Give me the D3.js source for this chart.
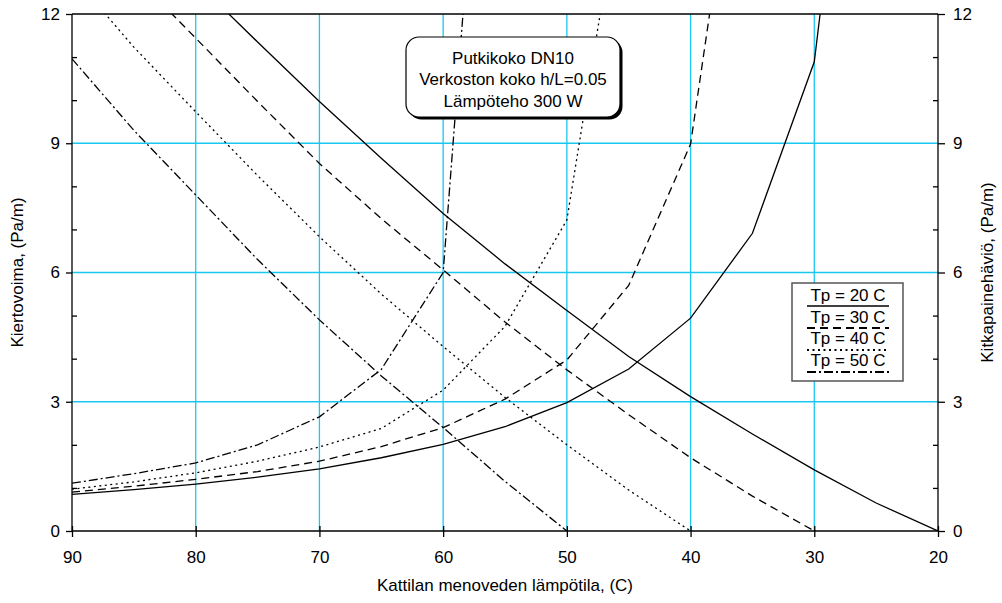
<!DOCTYPE html>
<html><head><meta charset="utf-8">
<script src="https://cdn.jsdelivr.net/npm/d3@7"></script>
<style>body{margin:0;background:#fff}svg{display:block;font-family:"Liberation Sans",Arial,sans-serif}</style>
</head><body><svg id="c" width="1002" height="603"></svg>
<script>
// Temperatures (x, °C)
const temps = [90,85,80,75,70,65,60,55,50,45,40,35,30,25,20];
// Kiertovoima (circulation force) per Tp, descending curves
const force20 = [null,null,12.75,11.35,9.97,8.65,7.37,6.2,5.12,4.05,3.12,2.25,1.42,0.65,0];
const force30 = [null,12.9,11.44,9.97,8.53,7.25,6.06,4.85,3.74,2.7,1.7,0.81,0,null,null];
const force40 = [12.9,11.23,9.73,8.25,6.83,5.5,4.28,3.1,2.0,0.95,0,null,null,null,null];
const force50 = [10.96,9.3,7.8,6.3,4.9,3.6,2.4,1.15,0,null,null,null,null,null,null];
// Kitkapainehäviö (friction loss) per Tp, ascending curves
const loss20 = [0.85,0.96,1.09,1.25,1.44,1.70,2.01,2.42,2.98,3.76,4.94,6.91,10.89,22.7,null];
const loss30 = [0.9,1.04,1.2,1.38,1.62,1.96,2.4,3.06,3.97,5.7,8.98,18.8,null,null,null];
const loss40 = [0.97,1.14,1.35,1.62,1.95,2.38,3.27,4.75,7.22,16.1,null,null,null,null,null];
const loss50 = [1.11,1.33,1.58,2.0,2.65,3.75,6.0,24.7,null,null,null,null,null,null,null];
const seriesNames = ["Tp = 20 C","Tp = 30 C","Tp = 40 C","Tp = 50 C"];
const yTicks = [0,3,6,9,12];
const xTicks = [90,80,70,60,50,40,30,20];
const infoLines = ["Putkikoko DN10","Verkoston koko h/L=0.05","Lämpöteho 300 W"];

const dashes = [null,"8,5","2,3.5","9,3,2,3"];
const svg = d3.select("#c");
const L=72,R=938,T=14,B=531;
const x = d3.scaleLinear().domain([90,20]).range([L,R]);
const y = d3.scaleLinear().domain([0,12]).range([B,T]);
const grid="#19c8f0";
const FS=17;

svg.append("defs").append("clipPath").attr("id","pc").append("rect")
  .attr("x",L).attr("y",T).attr("width",R-L).attr("height",B-T);

// grid
svg.append("g").selectAll("line").data(xTicks.filter(d=>d!==90&&d!==20)).join("line")
  .attr("x1",d=>x(d)).attr("x2",d=>x(d)).attr("y1",T).attr("y2",B)
  .attr("stroke",grid).attr("stroke-width",1.3);
svg.append("g").selectAll("line").data(yTicks.filter(d=>d!==0&&d!==12)).join("line")
  .attr("x1",L).attr("x2",R).attr("y1",d=>y(d)).attr("y2",d=>y(d))
  .attr("stroke",grid).attr("stroke-width",1.3);

// curves
const lineGen = d3.line().defined(d=>d[1]!=null).x(d=>x(d[0])).y(d=>y(d[1]));
const curves = svg.append("g").attr("clip-path","url(#pc)");
[force20,force30,force40,force50].forEach((s,i)=>{
  curves.append("path").attr("d",lineGen(temps.map((t,j)=>[t,s[j]])))
    .attr("fill","none").attr("stroke","#000").attr("stroke-width",1.3)
    .attr("stroke-dasharray",dashes[i]);
});
[loss20,loss30,loss40,loss50].forEach((s,i)=>{
  curves.append("path").attr("d",lineGen(temps.map((t,j)=>[t,s[j]])))
    .attr("fill","none").attr("stroke","#000").attr("stroke-width",1.3)
    .attr("stroke-dasharray",dashes[i]);
});

// frame
svg.append("line").attr("x1",L).attr("x2",R).attr("y1",T).attr("y2",T).attr("stroke","#000").attr("stroke-width",1.3);

// axes
const fmt = d3.format("d");
const gl = svg.append("g").attr("transform",`translate(${L},0)`)
  .call(d3.axisLeft(y).tickValues(yTicks).tickFormat(fmt).tickSize(6).tickPadding(6));
const gr = svg.append("g").attr("transform",`translate(${R},0)`)
  .call(d3.axisRight(y).tickValues(yTicks).tickFormat(fmt).tickSize(7).tickPadding(8));
const gb = svg.append("g").attr("transform",`translate(0,${B})`)
  .call(d3.axisBottom(x).tickValues(xTicks).tickFormat(fmt).tickSize(6).tickPadding(14));
// minor ticks inside
const minor = d3.range(0,13).filter(v=>v%3!==0);
gl.append("g").call(d3.axisRight(y).tickValues(minor).tickFormat("").tickSize(5)).select(".domain").remove();
gr.append("g").call(d3.axisLeft(y).tickValues(minor).tickFormat("").tickSize(5)).select(".domain").remove();
// bottom ticks crossing inward
gb.append("g").call(d3.axisTop(x).tickValues(xTicks).tickFormat("").tickSize(5)).select(".domain").remove();
[gl,gr,gb].forEach(g=>{
  g.selectAll(".domain").attr("stroke","#000").attr("stroke-width",1.3);
  g.selectAll(".tick line").attr("stroke","#000").attr("stroke-width",1.3);
  g.selectAll("text").attr("font-size",FS).attr("fill","#000").attr("font-family","Liberation Sans, Arial, sans-serif");
});
gl.selectAll(".domain").attr("d",`M0,${T}V${B}`);
gr.selectAll(".domain").attr("d",`M0,${T}V${B}`);
gb.selectAll(".domain").attr("d",`M${L},0H${R}`);

// axis titles
svg.append("text").attr("x",(L+R)/2).attr("y",591).attr("text-anchor","middle")
  .attr("font-size",FS).text("Kattilan menoveden lämpötila, (C)");
svg.append("text").attr("transform",`translate(23,${(T+B)/2}) rotate(-90)`).attr("text-anchor","middle")
  .attr("font-size",FS).text("Kiertovoima, (Pa/m)");
svg.append("text").attr("transform",`translate(993,${(T+B)/2}) rotate(-90)`).attr("text-anchor","middle")
  .attr("font-size",FS).text("Kitkapainehäviö, (Pa/m)");

// info box
const bx=406,by=37,bw=214,bh=80;
svg.append("rect").attr("x",bx+2.5).attr("y",by+2.5).attr("width",bw).attr("height",bh).attr("rx",13).attr("fill","#000");
svg.append("rect").attr("x",bx).attr("y",by).attr("width",bw).attr("height",bh).attr("rx",13)
  .attr("fill","#fff").attr("stroke","#000").attr("stroke-width",1.2);
svg.append("g").selectAll("text").data(infoLines).join("text")
  .attr("x",bx+bw/2).attr("y",(d,i)=>63.5+i*21.5).attr("text-anchor","middle")
  .attr("font-size",FS).text(d=>d);

// legend
const lg = svg.append("g");
lg.append("rect").attr("x",792).attr("y",283).attr("width",111).attr("height",98)
  .attr("fill","#fff").attr("stroke","#555").attr("stroke-width",1.5);
seriesNames.forEach((n,i)=>{
  lg.append("text").attr("x",848).attr("y",301+i*21.5).attr("text-anchor","middle")
    .attr("font-size",FS).text(n);
  lg.append("line").attr("x1",807).attr("x2",889).attr("y1",306+i*22).attr("y2",306+i*22)
    .attr("stroke","#000").attr("stroke-width",i===0?1.3:2.2).attr("stroke-dasharray",dashes[i]);
});
</script></body></html>
